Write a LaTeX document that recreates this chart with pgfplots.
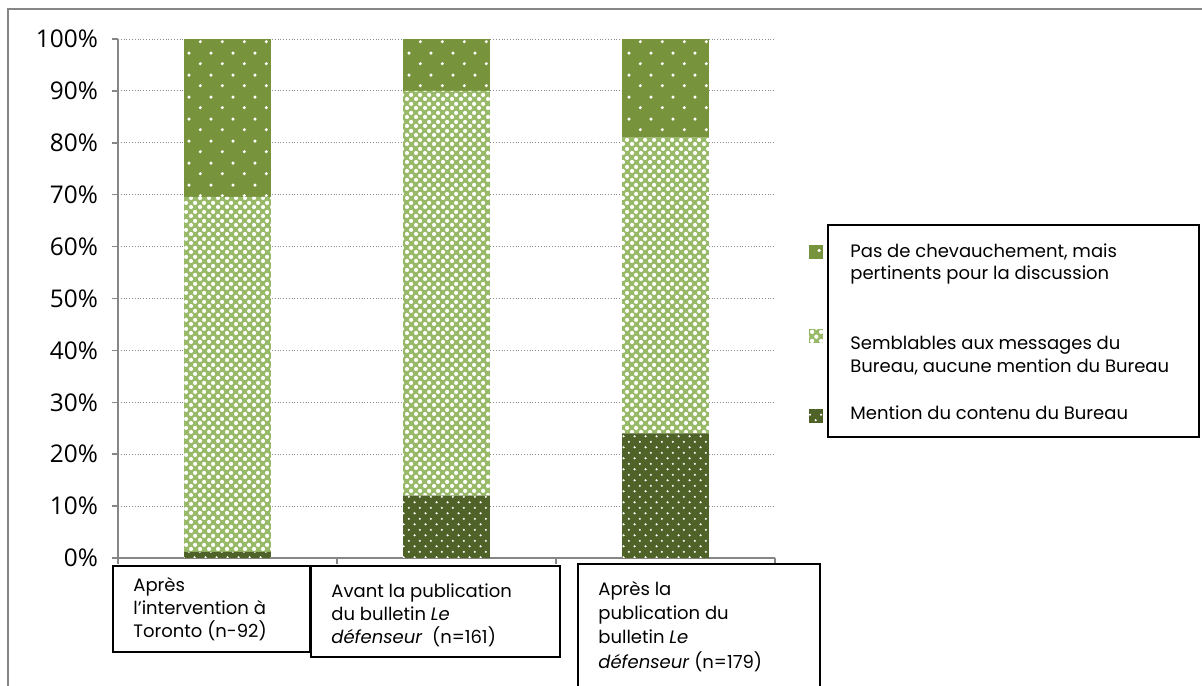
\documentclass[border=0pt]{standalone}
\usepackage{fontspec}
\setmainfont{Poppins}
\newfontfamily\tickfont{Open Sans}
\usepackage{pgfplots}
\pgfplotsset{compat=1.18}
\usetikzlibrary{patterns.meta}
\definecolor{topg}{RGB}{119,147,60}
\definecolor{midg}{RGB}{152,186,104}
\definecolor{botg}{RGB}{79,98,40}
\definecolor{axgray}{RGB}{134,134,134}

\tikzdeclarepattern{name=topdots, type=uncolored,
  bottom left={(0pt,0pt)}, top right={(10.85pt,11pt)}, tile size={(10.85pt,11pt)},
  code={\fill (2.7pt,2.75pt) circle[radius=0.85pt]; \fill (8.1pt,8.25pt) circle[radius=0.85pt];}}
\tikzdeclarepattern{name=middots, type=uncolored,
  bottom left={(0pt,0pt)}, top right={(4.5pt,4.5pt)}, tile size={(4.5pt,4.5pt)},
  code={\fill (1.125pt,1.125pt) circle[radius=1.15pt]; \fill (3.375pt,3.375pt) circle[radius=1.15pt];}}
\tikzdeclarepattern{name=botdots, type=uncolored,
  bottom left={(0pt,0pt)}, top right={(5.35pt,5.7pt)}, tile size={(5.35pt,5.7pt)},
  code={\fill (1.34pt,1.43pt) circle[radius=0.6pt]; \fill (4.01pt,4.28pt) circle[radius=0.6pt];}}

\tikzset{
  topstyle/.style={fill=topg, draw=none, postaction={pattern=topdots, pattern color=white}},
  midstyle/.style={fill=midg, draw=none, postaction={pattern=middots, pattern color=white}},
  botstyle/.style={fill=botg, draw=none, postaction={pattern=botdots, pattern color=white}},
}
\newcommand\lbl{\fontsize{9}{11}\selectfont}

\begin{document}
\begin{tikzpicture}
\useasboundingbox (0pt,0pt) rectangle (601pt,-342.5pt);
\begin{axis}[
  at={(59pt,-279pt)}, anchor=south west,
  scale only axis, width=328.5pt, height=259.5pt,
  xmin=-0.5, xmax=2.5, ymin=0, ymax=100,
  ybar stacked, bar width=0.397,
  axis x line*=bottom, axis y line*=left,
  axis line style={axgray, line width=0.75pt},
  xtick={-0.5,0.5,1.5,2.5}, xticklabels={},
  ytick={0,10,...,100},
  yticklabel={\pgfmathprintnumber{\tick}\%},
  /pgf/number format/assume math mode=true,
  tick align=outside, major tick length=3pt,
  tick style={axgray, line width=0.75pt},
  ymajorgrids, grid style={densely dotted, black!45, line width=0.5pt},
  yticklabel style={font=\tickfont\fontsize{12.2}{14}\selectfont, xshift=-3.5pt},
]
\addplot[botstyle] coordinates {(0,1.2) (1,12) (2,24)};
\addplot[midstyle] coordinates {(0,68.4) (1,78) (2,57)};
\addplot[topstyle] coordinates {(0,30.4) (1,10) (2,19)};
\end{axis}
\begin{scope}[x=0.5pt, y=-0.5pt]
  % outer frame
  \draw[axgray, line width=0.9pt] (8,700) -- (8,9) -- (1215,9);
  % legend
  \draw[black, line width=1pt] (828,225) rectangle (1199,437);
  \fill[topstyle] (809,245) rectangle (823,259);
  \fill[midstyle] (809,329) rectangle (823,343);
  \fill[botstyle] (809,409) rectangle (823,423);
  \node[anchor=base west, inner sep=0pt, font=\lbl] at (850,257) {Pas de chevauchement, mais};
  \node[anchor=base west, inner sep=0pt, font=\lbl] at (850,279) {pertinents pour la discussion};
  \node[anchor=base west, inner sep=0pt, font=\lbl] at (850,349) {Semblables aux messages du};
  \node[anchor=base west, inner sep=0pt, font=\lbl] at (850,372) {Bureau, aucune mention du Bureau};
  \node[anchor=base west, inner sep=0pt, font=\lbl] at (850,419) {Mention du contenu du Bureau};
  % category boxes
  \draw[black, line width=1pt, fill=white] (113,566) rectangle (310,652);
  \draw[black, line width=1pt, fill=white] (311,566) rectangle (560,657);
  \draw[black, line width=1pt, fill=white] (578,564) rectangle (820,700);
  \node[anchor=base west, inner sep=0pt, font=\lbl] at (133,591) {Après};
  \node[anchor=base west, inner sep=0pt, font=\lbl] at (133,614) {l’intervention à};
  \node[anchor=base west, inner sep=0pt, font=\lbl] at (133,637) {Toronto (n-92)};
  \node[anchor=base west, inner sep=0pt, font=\lbl] at (331,597) {Avant la publication};
  \node[anchor=base west, inner sep=0pt, font=\lbl] at (331,620) {du bulletin \textit{Le}};
  \node[anchor=base west, inner sep=0pt, font=\lbl] at (331,643) {\textit{défenseur}\ \ (n=161)};
  \node[anchor=base west, inner sep=0pt, font=\lbl] at (598,595) {Après la};
  \node[anchor=base west, inner sep=0pt, font=\lbl] at (598,619) {publication du};
  \node[anchor=base west, inner sep=0pt, font=\lbl] at (598,643) {bulletin \textit{Le}};
  \node[anchor=base west, inner sep=0pt, font=\lbl] at (598,668) {\textit{défenseur} (n=179)};
\end{scope}
\end{tikzpicture}
\end{document}
